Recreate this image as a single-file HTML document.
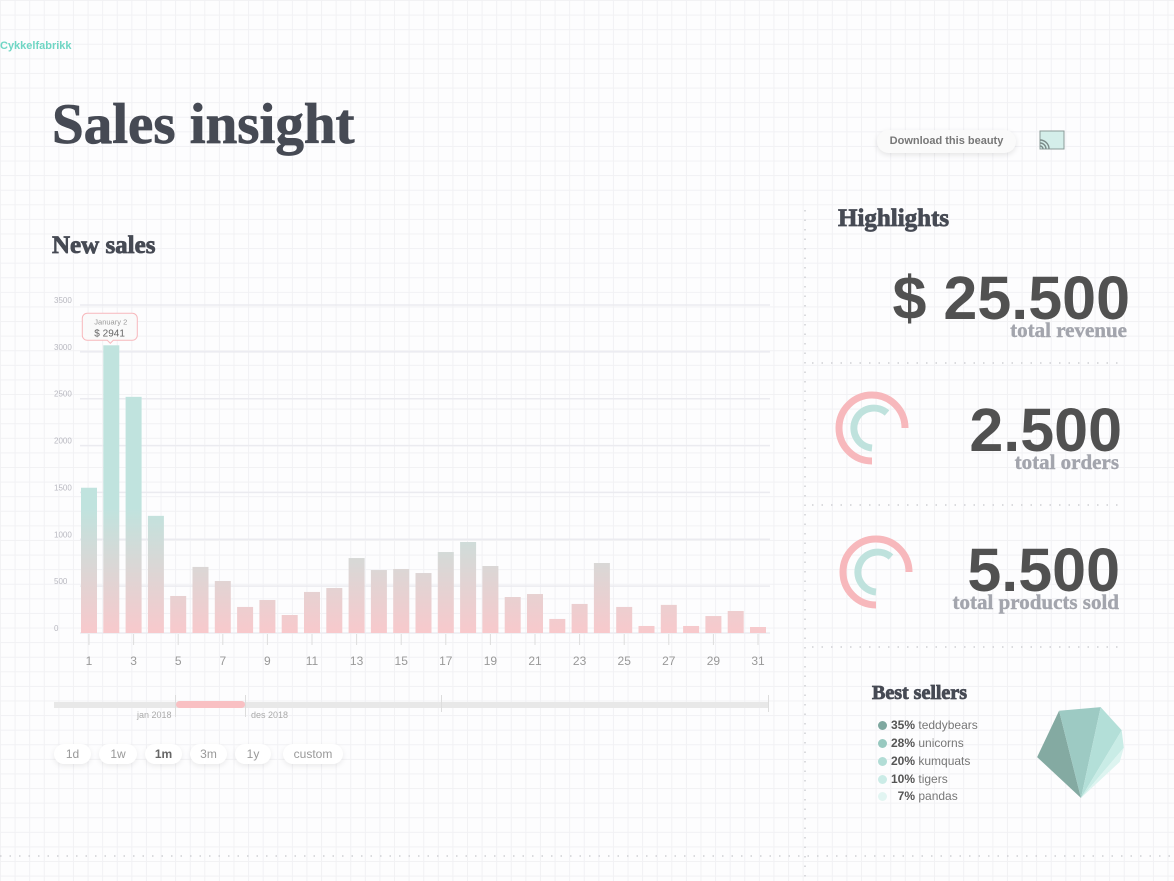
<!DOCTYPE html>
<html><head><meta charset="utf-8"><style>
body{margin:0;width:1174px;height:881px;overflow:hidden;background-color:#fdfdfe;
background-image:linear-gradient(#f1f1f4 1px,transparent 1px),linear-gradient(90deg,#f1f1f4 1px,transparent 1px);background-size:14.6px 14.6px;font-family:"Liberation Sans",sans-serif;position:relative}
.abs{position:absolute}
.slab{font-family:"Liberation Serif",serif;font-weight:bold;-webkit-text-stroke:0.8px currentColor}
.pill{position:absolute;top:744px;height:20px;border-radius:10px;background:#fff;box-shadow:0 2px 6px rgba(0,0,0,.08);font-size:12px;color:#999;line-height:20px;text-align:center}
.big{position:absolute;font-weight:bold;color:#515151;font-size:61px;line-height:64px;text-align:right}
.sub{position:absolute;color:#a3a5ad;font-size:21px;text-align:right;font-family:"Liberation Serif",serif;font-weight:bold;-webkit-text-stroke:0.4px #a3a5ad}
.leg{position:absolute;left:878px;font-size:12px;color:#777}
.leg b{color:#555}
.dot{display:inline-block;width:9px;height:9px;border-radius:50%;margin-right:4px;vertical-align:-1px}
</style></head><body>
<div class="abs" style="left:0;top:40px;font-size:11px;font-weight:bold;color:#6fd6c4">Cykkelfabrikk</div>
<div class="abs slab" style="left:52px;top:92px;font-size:57px;color:#464a54">Sales insight</div>
<div class="abs" style="left:877px;top:130px;width:139px;height:23px;border-radius:12px;background:#fafafa;box-shadow:0 2px 6px rgba(0,0,0,.1);font-size:11px;font-weight:bold;color:#777;line-height:23px;text-align:center">Download this beauty</div>
<svg class="abs" style="left:1038px;top:129px" width="30" height="24"><rect x="2" y="2" width="24" height="18" fill="#d4eeea" stroke="#8a9a98" stroke-width="1"/><path d="M2 14a6 6 0 0 1 6 6M2 11a9 9 0 0 1 9 9M2 17a3 3 0 0 1 3 3" fill="none" stroke="#7a8a88" stroke-width="1.4"/></svg>

<div class="abs slab" style="left:52px;top:232px;font-size:25px;color:#464a54">New sales</div>
<svg class="abs" id="chart" style="left:0;top:290px" width="790" height="390"></svg>

<div class="abs" style="left:54px;top:702px;width:714px;height:6px;background:#e8e8e8"></div>
<div class="abs" style="left:176px;top:701px;width:69px;height:7px;border-radius:4px;background:#f9c0c3"></div>
<div class="abs" style="left:175px;top:695px;width:1px;height:22px;background:#ddd"></div>
<div class="abs" style="left:245px;top:695px;width:1px;height:22px;background:#ddd"></div>
<div class="abs" style="left:441px;top:695px;width:1px;height:17px;background:#ddd"></div>
<div class="abs" style="left:768px;top:695px;width:1px;height:17px;background:#ddd"></div>
<div class="abs" style="left:137px;top:710px;font-size:9px;color:#aaa">jan 2018</div>
<div class="abs" style="left:251px;top:710px;font-size:9px;color:#aaa">des 2018</div>

<div class="pill" style="left:54px;width:37px">1d</div>
<div class="pill" style="left:99px;width:38px">1w</div>
<div class="pill" style="left:145px;width:37px;font-weight:bold;color:#666">1m</div>
<div class="pill" style="left:190px;width:37px">3m</div>
<div class="pill" style="left:235px;width:36px">1y</div>
<div class="pill" style="left:283px;width:60px">custom</div>

<svg class="abs" style="left:0;top:0" width="1174" height="881">
<g stroke="#cfd0d4" stroke-width="1.5" stroke-dasharray="1.5 8">
<line x1="805" y1="210" x2="805" y2="881"/>
<line x1="0" y1="856" x2="1174" y2="856"/>
<line x1="812" y1="363" x2="1122" y2="363"/>
<line x1="812" y1="505" x2="1122" y2="505"/>
<line x1="812" y1="647" x2="1122" y2="647"/>
</g></svg>

<div class="abs slab" style="left:838px;top:205px;font-size:25px;color:#464a54">Highlights</div>
<div class="big" style="right:44px;top:266px">$ 25.500</div>
<div class="sub" style="right:47px;top:318px">total revenue</div>
<div class="big" style="right:52px;top:398px">2.500</div>
<div class="sub" style="right:55px;top:450px">total orders</div>
<div class="big" style="right:54px;top:538px">5.500</div>
<div class="sub" style="right:55px;top:590px">total products sold</div>

<svg class="abs" style="left:830px;top:384px" width="84" height="84">
<path d="M42 77A33 33 0 1 1 75 44" fill="none" stroke="#f7b8bc" stroke-width="7"/>
<path d="M42 64A20 20 0 1 1 57 29" fill="none" stroke="#bfe2dd" stroke-width="7"/></svg>
<svg class="abs" style="left:834px;top:528px" width="84" height="84">
<path d="M42 77A33 33 0 1 1 75 44" fill="none" stroke="#f7b8bc" stroke-width="7"/>
<path d="M42 64A20 20 0 1 1 57 29" fill="none" stroke="#bfe2dd" stroke-width="7"/></svg>

<div class="abs slab" style="left:872px;top:682px;font-size:20px;color:#464a54">Best sellers</div>
<div class="leg" style="top:718px"><span class="dot" style="background:#7fa8a0"></span><b>35%</b> teddybears</div>
<div class="leg" style="top:736px"><span class="dot" style="background:#98c9c0"></span><b>28%</b> unicorns</div>
<div class="leg" style="top:754px"><span class="dot" style="background:#b2ddd6"></span><b>20%</b> kumquats</div>
<div class="leg" style="top:772px"><span class="dot" style="background:#cbece7"></span><b>10%</b> tigers</div>
<div class="leg" style="top:789px"><span class="dot" style="background:#e2f5f2"></span>&nbsp;&nbsp;<b>7%</b> pandas</div>
<svg class="abs" id="gem" style="left:1020px;top:690px" width="120" height="120"></svg>

<script>
const days=[1,2,3,4,5,6,7,8,9,10,11,12,13,14,15,16,17,18,19,20,21,22,23,24,25,26,27,28,29,30,31];
const sales=[1550,3070,2520,1250,395,705,555,278,352,192,438,480,800,672,683,640,864,971,715,384,416,150,310,747,278,75,300,75,181,235,64];
const yTicks=[0,500,1000,1500,2000,2500,3000,3500];
const shares=[35,28,20,10,7];
const shareColors=['#84aaa2','#9dcac3','#b3dfd8','#c9ece6','#ddf4f0'];
const NS='http://www.w3.org/2000/svg';
const svg=document.getElementById('chart');
const x0=89,dx=22.3,yBase=343,pxPer=328/3500;
const X=i=>x0+i*dx, Y=v=>yBase-v*pxPer;
function mk(t,a,p){const e=document.createElementNS(NS,t);for(const k in a)e.setAttribute(k,a[k]);(p||svg).appendChild(e);return e;}
const defs=mk('defs',{});
const lg=mk('linearGradient',{id:'bg',gradientUnits:'userSpaceOnUse',x1:0,y1:yBase,x2:0,y2:yBase-125},defs);
mk('stop',{offset:0,'stop-color':'#f8c9cc'},lg);mk('stop',{offset:1,'stop-color':'#c0e3de'},lg);
yTicks.forEach(t=>{
 const l=mk('line',{x1:80,x2:770,y1:Y(t),y2:Y(t),stroke:'#ebebf0','stroke-width':1.5});
 
 
 const tx=mk('text',{x:54,y:Y(t)-2,'font-size':8,fill:'#b8b8c0'});tx.textContent=t;
 
 
});
sales.forEach((v,i)=>{
 const r=mk('rect',{x:X(i)-8,y:Y(v),width:16,height:v*pxPer,fill:'url(#bg)'});
 
 
 if(i%2===0){
  mk('line',{x1:X(i),x2:X(i),y1:yBase+1,y2:yBase+12,stroke:'#ddd'});
  const t=mk('text',{x:X(i),y:yBase+32,'font-size':12,fill:'#999','text-anchor':'middle'});t.textContent=days[i];
  
  
 }
});
const tg=mk('g',{});


const tx=X(1),ty=Y(sales[1]);
mk('path',{d:`M${tx-21} ${ty-32}h42a5 5 0 0 1 5 5v17a5 5 0 0 1-5 5h-19l-3 3-3-3h-20a5 5 0 0 1-5-5v-17a5 5 0 0 1 5-5z`,fill:'#fafafa',stroke:'#f7b8bc','stroke-width':1},tg);
const t1=mk('text',{x:tx-17,y:ty-21,'font-size':7.5,fill:'#999'},tg);t1.textContent='January 2';
const t2=mk('text',{x:tx-17,y:ty-9,'font-size':10,fill:'#666'},tg);t2.textContent='$ 2941';

// gem
const gem=document.getElementById('gem');
const ax=61,ay=108,radii=[60,90,93,79,66,53];
const total=shares.reduce((a,b)=>a+b,0);
let ang=-47;
const p=(a,r)=>[ax+r*Math.sin(a*Math.PI/180),ay-r*Math.cos(a*Math.PI/180)];
shares.forEach((s,i)=>{
 const a1=ang+s/total*94;
 const pts=[[ax,ay],p(ang,radii[i]),p(a1,radii[i+1])];
 const pg=document.createElementNS(NS,'polygon');
 pg.setAttribute('points',pts.map(q=>q.join(',')).join(' '));
 pg.setAttribute('fill',shareColors[i]);
 
 
 gem.appendChild(pg);
 ang=a1;
});
</script>
</body></html>
